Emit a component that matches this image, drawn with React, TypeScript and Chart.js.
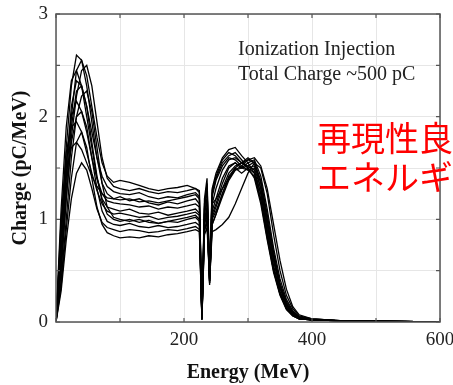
import React, { useEffect, useRef } from "react";
import { Chart, registerables } from "chart.js";

Chart.register(...registerables);

const ENERGY = [0, 8, 16, 24, 32, 40, 48, 56, 64, 72, 80, 90, 100, 115, 130, 145, 160, 175, 190, 205, 218, 224, 228, 232, 236, 240, 244, 250, 260, 270, 280, 290, 300, 310, 320, 330, 340, 350, 360, 370, 380, 400, 450, 600];

const S1 = [0, 0.9, 1.7, 2.3, 2.6, 2.55, 2.3, 1.95, 1.6, 1.35, 1.25, 1.2, 1.22, 1.18, 1.2, 1.16, 1.14, 1.17, 1.15, 1.18, 1.2, 1.15, 0.05, 1.05, 1.2, 0.45, 1.15, 1.2, 1.3, 1.4, 1.48, 1.52, 1.58, 1.55, 1.3, 0.95, 0.6, 0.33, 0.17, 0.08, 0.04, 0.02, 0.01, 0];
const S2 = [0, 0.6, 1.4, 2.0, 2.45, 2.55, 2.4, 2.1, 1.8, 1.55, 1.42, 1.36, 1.38, 1.36, 1.33, 1.3, 1.28, 1.3, 1.31, 1.33, 1.3, 1.28, 0.08, 1.2, 1.4, 0.5, 1.3, 1.45, 1.6, 1.68, 1.7, 1.62, 1.55, 1.45, 1.2, 0.85, 0.5, 0.28, 0.13, 0.06, 0.03, 0.02, 0.01, 0];
const S3 = [0, 1.1, 1.9, 2.35, 2.45, 2.3, 2.0, 1.7, 1.4, 1.2, 1.12, 1.1, 1.08, 1.1, 1.06, 1.05, 1.07, 1.04, 1.06, 1.08, 1.1, 1.06, 0.03, 1.0, 1.1, 0.4, 1.05, 1.15, 1.35, 1.5, 1.55, 1.5, 1.52, 1.56, 1.35, 1.0, 0.62, 0.35, 0.18, 0.09, 0.04, 0.02, 0.01, 0];
const S4 = [0, 0.7, 1.5, 2.1, 2.35, 2.3, 2.1, 1.85, 1.6, 1.42, 1.32, 1.27, 1.25, 1.24, 1.26, 1.22, 1.2, 1.22, 1.21, 1.24, 1.26, 1.22, 0.06, 1.1, 1.3, 0.42, 1.25, 1.4, 1.55, 1.62, 1.65, 1.58, 1.5, 1.4, 1.15, 0.8, 0.48, 0.26, 0.12, 0.06, 0.03, 0.02, 0.01, 0];
const S5 = [0, 0.4, 1.0, 1.6, 2.0, 2.2, 2.25, 2.05, 1.7, 1.35, 1.12, 1.02, 1.0, 0.98, 1.0, 0.97, 0.96, 0.98, 0.97, 1.0, 1.02, 0.98, 0.04, 0.95, 1.05, 0.38, 1.0, 1.08, 1.25, 1.4, 1.5, 1.55, 1.6, 1.55, 1.38, 1.05, 0.68, 0.38, 0.2, 0.1, 0.05, 0.02, 0.01, 0];
const S6 = [0, 0.8, 1.55, 2.0, 2.15, 2.05, 1.85, 1.6, 1.4, 1.25, 1.18, 1.16, 1.15, 1.14, 1.12, 1.13, 1.1, 1.12, 1.11, 1.13, 1.15, 1.12, 0.05, 1.05, 1.2, 0.44, 1.15, 1.3, 1.48, 1.58, 1.6, 1.55, 1.5, 1.45, 1.25, 0.9, 0.55, 0.3, 0.15, 0.07, 0.03, 0.02, 0.01, 0];
const S7 = [0, 0.5, 1.2, 1.75, 2.0, 2.05, 1.9, 1.6, 1.3, 1.08, 0.98, 0.95, 0.94, 0.96, 0.93, 0.92, 0.94, 0.92, 0.93, 0.95, 0.97, 0.94, 0.02, 0.9, 1.0, 0.36, 0.95, 1.05, 1.22, 1.38, 1.48, 1.5, 1.55, 1.58, 1.42, 1.1, 0.72, 0.42, 0.22, 0.11, 0.05, 0.03, 0.01, 0];
const S8 = [0, 1.0, 1.65, 1.9, 1.95, 1.85, 1.65, 1.45, 1.28, 1.15, 1.08, 1.05, 1.06, 1.04, 1.02, 1.03, 1.0, 1.02, 1.03, 1.05, 1.07, 1.04, 0.04, 1.0, 1.12, 0.4, 1.08, 1.2, 1.4, 1.52, 1.55, 1.5, 1.48, 1.5, 1.3, 0.95, 0.6, 0.33, 0.16, 0.08, 0.04, 0.02, 0.01, 0];
const S9 = [0, 0.35, 0.9, 1.4, 1.75, 1.85, 1.7, 1.4, 1.12, 0.95, 0.87, 0.84, 0.82, 0.83, 0.82, 0.84, 0.83, 0.85, 0.86, 0.88, 0.9, 0.88, 0.03, 0.85, 0.92, 0.4, 0.88, 0.9, 0.95, 1.02, 1.15, 1.3, 1.45, 1.55, 1.5, 1.25, 0.85, 0.5, 0.26, 0.13, 0.06, 0.03, 0.01, 0];
const S10 = [0, 0.9, 1.45, 1.7, 1.75, 1.68, 1.55, 1.42, 1.32, 1.25, 1.21, 1.2, 1.19, 1.2, 1.17, 1.18, 1.16, 1.18, 1.2, 1.22, 1.24, 1.2, 0.07, 1.12, 1.3, 0.46, 1.22, 1.38, 1.52, 1.6, 1.58, 1.52, 1.48, 1.42, 1.18, 0.82, 0.5, 0.27, 0.13, 0.06, 0.03, 0.02, 0.01, 0];
const S11 = [0, 0.3, 0.8, 1.2, 1.45, 1.55, 1.48, 1.3, 1.1, 0.97, 0.92, 0.9, 0.88, 0.9, 0.89, 0.87, 0.88, 0.9, 0.89, 0.91, 0.93, 0.9, 0.02, 0.88, 0.98, 0.42, 0.95, 1.05, 1.25, 1.42, 1.5, 1.45, 1.5, 1.52, 1.36, 1.0, 0.65, 0.36, 0.18, 0.09, 0.04, 0.02, 0.01, 0];
const S12 = [0, 0.5, 1.2, 1.8, 2.2, 2.45, 2.5, 2.3, 1.95, 1.6, 1.4, 1.32, 1.3, 1.28, 1.3, 1.27, 1.25, 1.27, 1.26, 1.28, 1.3, 1.26, 0.05, 1.15, 1.35, 0.48, 1.28, 1.42, 1.58, 1.65, 1.62, 1.55, 1.52, 1.48, 1.25, 0.88, 0.52, 0.28, 0.14, 0.07, 0.03, 0.02, 0.01, 0];
const S13 = [0, 0.6, 1.3, 1.9, 2.25, 2.3, 2.1, 1.75, 1.42, 1.18, 1.05, 1.0, 0.98, 1.0, 0.97, 0.99, 0.96, 0.98, 1.0, 1.02, 1.04, 1.0, 0.03, 0.95, 1.08, 0.38, 1.02, 1.12, 1.3, 1.45, 1.52, 1.55, 1.58, 1.6, 1.52, 1.3, 0.95, 0.6, 0.32, 0.15, 0.07, 0.03, 0.01, 0];

const SERIES = [S1, S2, S3, S4, S5, S6, S7, S8, S9, S10, S11, S12, S13];

const X_LABELED = [200, 400, 600];
const Y_LABELED = [0, 1, 2, 3];

const NOTE_LINES = ["Ionization Injection", "Total Charge ~500 pC"];
const RED_LINES = ["再現性良", "エネルギ"];

const framePlugin = {
  id: "frame",
  afterDraw(chart: any) {
    const { ctx, chartArea, scales } = chart;
    const { left, top, right, bottom } = chartArea;
    ctx.save();
    ctx.strokeStyle = "#555";
    ctx.lineWidth = 1.5;
    ctx.strokeRect(left, top, right - left, bottom - top);
    ctx.lineWidth = 1.2;
    ctx.beginPath();
    scales.x.ticks.forEach((t: any) => {
      const px = scales.x.getPixelForValue(t.value);
      ctx.moveTo(px, bottom);
      ctx.lineTo(px, bottom - 4);
      ctx.moveTo(px, top);
      ctx.lineTo(px, top + 4);
    });
    scales.y.ticks.forEach((t: any) => {
      const py = scales.y.getPixelForValue(t.value);
      ctx.moveTo(left, py);
      ctx.lineTo(left + 4, py);
      ctx.moveTo(right, py);
      ctx.lineTo(right - 4, py);
    });
    ctx.stroke();
    ctx.restore();
  },
};

export default function App() {
  const ref = useRef<HTMLCanvasElement | null>(null);

  useEffect(() => {
    if (!ref.current) return;
    const serif = "'Liberation Serif', 'Times New Roman', serif";
    const chart = new Chart(ref.current, {
      type: "line",
      data: {
        datasets: SERIES.map((s) => ({
          data: s.map((v, i) => ({ x: ENERGY[i], y: v })),
          borderColor: "#000",
          borderWidth: 1.3,
          pointRadius: 0,
          tension: 0,
          fill: false,
        })),
      },
      options: {
        animation: false,
        responsive: false,
        maintainAspectRatio: false,
        devicePixelRatio: 1,
        layout: { padding: { left: 0, right: 13, top: 14, bottom: 0 } },
        plugins: { legend: { display: false }, tooltip: { enabled: false } },
        scales: {
          x: {
            type: "linear",
            min: 0,
            max: 600,
            grid: { color: "#e6e6e6", drawTicks: false },
            border: { display: false },
            ticks: {
              stepSize: 100,
              padding: 7,
              maxRotation: 0,
              color: "#222",
              font: { family: serif, size: 19 },
              callback: (v: any) => (X_LABELED.includes(Number(v)) ? String(v) : ""),
            },
            title: {
              display: true,
              text: "Energy (MeV)",
              color: "#111",
              font: { family: serif, size: 20, weight: "bold" },
              padding: { top: 0, bottom: 0 },
            },
            afterFit: (scale: any) => {
              scale.height = 63;
              scale.paddingLeft = 0;
              scale.paddingRight = 0;
            },
          },
          y: {
            min: 0,
            max: 3,
            grid: { color: "#e6e6e6", drawTicks: false },
            border: { display: false },
            ticks: {
              stepSize: 0.5,
              padding: 8,
              color: "#222",
              font: { family: serif, size: 19 },
              callback: (v: any) => (Y_LABELED.includes(Number(v)) ? String(v) : ""),
            },
            title: {
              display: true,
              text: "Charge (pC/MeV)",
              color: "#111",
              font: { family: serif, size: 20, weight: "bold" },
              padding: { top: 9, bottom: 0 },
            },
            afterFit: (scale: any) => {
              scale.width = 56;
              scale.paddingTop = 0;
              scale.paddingBottom = 0;
            },
          },
        },
      },
      plugins: [framePlugin],
    } as any);
    return () => chart.destroy();
  }, []);

  return (
    <div
      style={{
        position: "absolute",
        left: 0,
        top: 0,
        width: 453,
        height: 385,
        overflow: "hidden",
        background: "#fff",
      }}
    >
      <canvas ref={ref} width={453} height={385} style={{ display: "block" }} />
      <div
        style={{
          position: "absolute",
          left: 238,
          top: 36,
          fontFamily: "'Liberation Serif', 'Times New Roman', serif",
          fontSize: 20,
          lineHeight: "25px",
          color: "#222",
          whiteSpace: "nowrap",
        }}
      >
        {NOTE_LINES.map((t) => (
          <div key={t}>{t}</div>
        ))}
      </div>
      <div
        style={{
          position: "absolute",
          left: 317,
          top: 117,
          fontFamily: "'Noto Sans CJK JP', sans-serif",
          fontSize: 34,
          lineHeight: "39px",
          color: "#ff0000",
          whiteSpace: "nowrap",
        }}
      >
        {RED_LINES.map((t) => (
          <div key={t}>{t}</div>
        ))}
      </div>
    </div>
  );
}
